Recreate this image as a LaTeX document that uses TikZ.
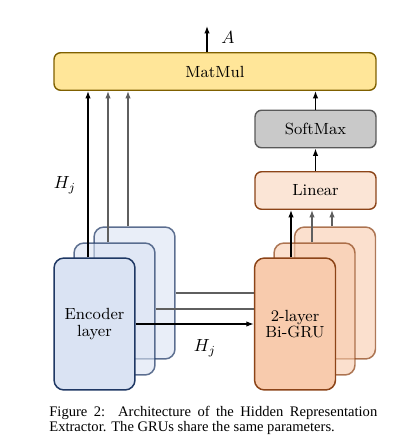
\documentclass[tikz,border=0pt]{standalone}
\usepackage{fontspec}
\usetikzlibrary{arrows.meta}
\newfontfamily\capfont{Liberation Serif}
\definecolor{encfill}{HTML}{DAE3F3}
\definecolor{encline}{HTML}{1F3864}
\definecolor{grufill}{HTML}{F8CBAD}
\definecolor{gruline}{HTML}{8C4418}
\definecolor{linfill}{HTML}{FBE5D6}
\definecolor{matfill}{HTML}{FFE699}
\definecolor{matline}{HTML}{7F6000}
\definecolor{smfill}{HTML}{C9C9C9}
\definecolor{smline}{HTML}{595959}
\definecolor{sidegray}{HTML}{5F5F5F}

\begin{document}
\begin{tikzpicture}
[x=0.02cm, y=-0.02cm, font=\fontsize{9.2}{9.6}\selectfont,
box/.style={draw, line width=0.8pt, rounded corners=0.13cm, minimum width=2.42cm, minimum height=0.75cm, inner sep=0pt},
layer/.style={draw, line width=0.85pt, rounded corners=0.2cm, minimum width=1.62cm, minimum height=2.64cm, align=center, inner sep=0pt},
enc/.style={layer, draw=encline, fill=encfill},
gru/.style={layer, draw=gruline, fill=grufill},
ghost/.style={fill opacity=0.6, draw opacity=0.7},
flow/.style={-{Latex[length=1.5mm,width=1.1mm]}, line width=0.7pt},
side/.style={flow, draw=sidegray},
]
\useasboundingbox (0,0) rectangle (401,439);

% stacked encoders and GRUs, back to front
\node[enc, ghost] (enc3) at (134.5,293) {};
\node[enc, ghost] (enc2) at (114.5,309) {};
\node[enc] (enc1) at (94.5,324) {Encoder\\layer};
\node[gru, ghost] (gru3) at (335,293) {};
\node[gru, ghost] (gru2) at (314.5,309) {};
\node[gru] (gru1) at (295,324) {2-layer\\Bi-GRU};

\node[box, minimum width=6.44cm, draw=matline, fill=matfill] (matmul) at (215,71.5) {MatMul};
\node[box, draw=smline, fill=smfill] (softmax) at (315.5,129) {SoftMax};
\node[box, draw=gruline, fill=linfill] (linear) at (315.5,190.5) {Linear};

% encoders to MatMul
\draw[flow] ([xshift=-0.13cm]enc1.north) -- ([xshift=-0.13cm]enc1.north |- matmul.south);
\draw[side] ([xshift=-0.13cm]enc2.north) -- ([xshift=-0.13cm]enc2.north |- matmul.south);
\draw[side] ([xshift=-0.13cm]enc3.north) -- ([xshift=-0.13cm]enc3.north |- matmul.south);

% encoders to GRUs
\draw[flow] (enc1.east) -- (enc1.east -| gru1.west);
\draw[line width=0.7pt, sidegray] (enc2.east) -- (enc2.east -| gru1.west);
\draw[line width=0.7pt, sidegray] (enc3.east) -- (enc3.east -| gru1.west);

% GRUs to Linear
\draw[flow] ([xshift=-0.08cm]gru1.north) -- ([xshift=-0.08cm]gru1.north |- linear.south);
\draw[side] ([xshift=-0.05cm]gru2.north) -- ([xshift=-0.05cm]gru2.north |- linear.south);
\draw[side] ([xshift=-0.06cm]gru3.north) -- ([xshift=-0.06cm]gru3.north |- linear.south);

\draw[flow] (linear) -- (softmax);
\draw[flow] (softmax) -- (softmax |- matmul.south);

\coordinate (aout) at (207,26);
\draw[flow] (aout |- matmul.north) -- (aout);
\node (alabel) at (228,37) {\normalsize $A$};

\node (hleft) at (65,185) {\normalsize $H_j$};
\node (hmid) at (205,348) {\normalsize $H_j$};

\node[font=\capfont\fontsize{8.3}{8.6}\selectfont, text width=6.56cm, align=justify, anchor=north west, inner sep=0pt] (caption) at (49,405.5)
  {Figure 2:\ \ Architecture of the Hidden Representation\linebreak Extractor. The GRUs share the same parameters.};
\end{tikzpicture}
\end{document}
